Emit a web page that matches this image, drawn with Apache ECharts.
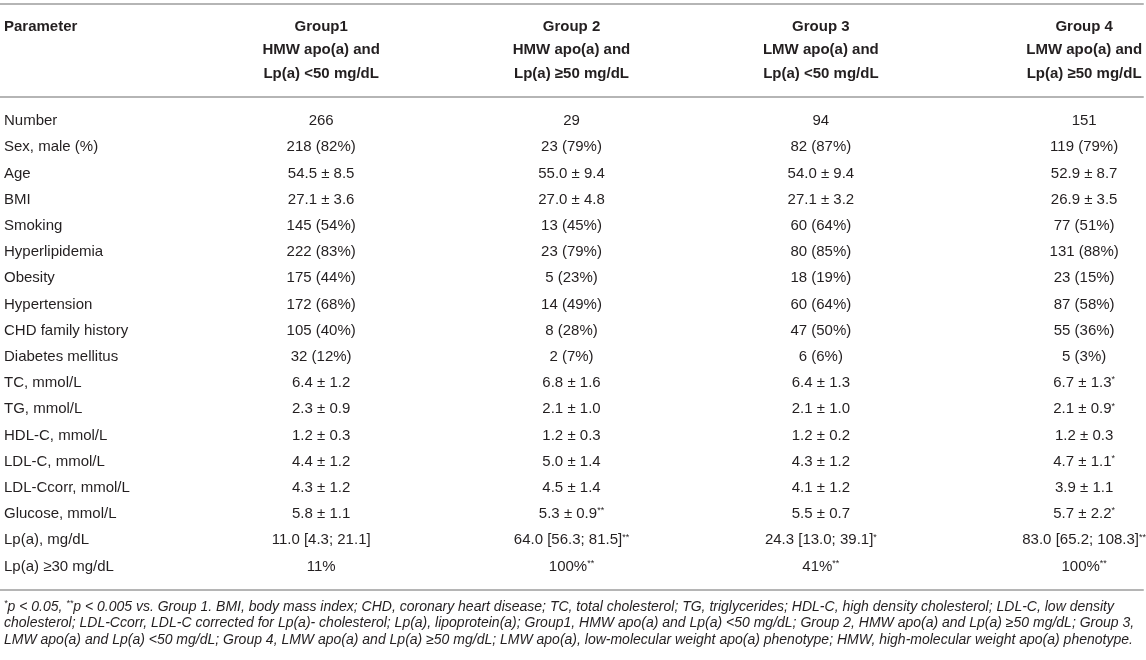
<!DOCTYPE html>
<html>
<head>
<meta charset="utf-8">
<script src="https://cdn.jsdelivr.net/npm/echarts@6/dist/echarts.min.js"></script>
<style>
  html, body { margin: 0; padding: 0; background: #fff; }
  #chart { width: 1146px; height: 660px; }
</style>
</head>
<body>
<div id="chart"></div>
<script>
// table contents
const params = ['Number', 'Sex, male (%)', 'Age', 'BMI', 'Smoking', 'Hyperlipidemia', 'Obesity',
  'Hypertension', 'CHD family history', 'Diabetes mellitus', 'TC, mmol/L', 'TG, mmol/L',
  'HDL-C, mmol/L', 'LDL-C, mmol/L', 'LDL-Ccorr, mmol/L', 'Glucose, mmol/L', 'Lp(a), mg/dL',
  'Lp(a) ≥30 mg/dL']

const group1 = ['266', '218 (82%)', '54.5 ± 8.5', '27.1 ± 3.6', '145 (54%)', '222 (83%)', '175 (44%)',
  '172 (68%)', '105 (40%)', '32 (12%)', '6.4 ± 1.2', '2.3 ± 0.9', '1.2 ± 0.3', '4.4 ± 1.2',
  '4.3 ± 1.2', '5.8 ± 1.1', '11.0 [4.3; 21.1]', '11%']
const group2 = ['29', '23 (79%)', '55.0 ± 9.4', '27.0 ± 4.8', '13 (45%)', '23 (79%)', '5 (23%)',
  '14 (49%)', '8 (28%)', '2 (7%)', '6.8 ± 1.6', '2.1 ± 1.0', '1.2 ± 0.3', '5.0 ± 1.4',
  '4.5 ± 1.4', '5.3 ± 0.9**', '64.0 [56.3; 81.5]**', '100%**']
const group3 = ['94', '82 (87%)', '54.0 ± 9.4', '27.1 ± 3.2', '60 (64%)', '80 (85%)', '18 (19%)',
  '60 (64%)', '47 (50%)', '6 (6%)', '6.4 ± 1.3', '2.1 ± 1.0', '1.2 ± 0.2', '4.3 ± 1.2',
  '4.1 ± 1.2', '5.5 ± 0.7', '24.3 [13.0; 39.1]*', '41%**']
const group4 = ['151', '119 (79%)', '52.9 ± 8.7', '26.9 ± 3.5', '77 (51%)', '131 (88%)', '23 (15%)',
  '87 (58%)', '55 (36%)', '5 (3%)', '6.7 ± 1.3*', '2.1 ± 0.9*', '1.2 ± 0.3', '4.7 ± 1.1*',
  '3.9 ± 1.1', '5.7 ± 2.2*', '83.0 [65.2; 108.3]**', '100%**']

const groupNames = ['Group1', 'Group 2', 'Group 3', 'Group 4']
const groupApo = ['HMW apo(a) and', 'HMW apo(a) and', 'LMW apo(a) and', 'LMW apo(a) and']
const groupLpa = ['Lp(a) <50 mg/dL', 'Lp(a) ≥50 mg/dL', 'Lp(a) <50 mg/dL', 'Lp(a) ≥50 mg/dL']

const footnote = [
  '{s|*}p < 0.05, {s|**}p < 0.005 vs. Group 1. BMI, body mass index; CHD, coronary heart disease; TC, total cholesterol; TG, triglycerides; HDL-C, high density cholesterol; LDL-C, low density',
  'cholesterol; LDL-Ccorr, LDL-C corrected for Lp(a)- cholesterol; Lp(a), lipoprotein(a); Group1, HMW apo(a) and Lp(a) <50 mg/dL; Group 2, HMW apo(a) and Lp(a) ≥50 mg/dL; Group 3,',
  'LMW apo(a) and Lp(a) <50 mg/dL; Group 4, LMW apo(a) and Lp(a) ≥50 mg/dL; LMW apo(a), low-molecular weight apo(a) phenotype; HMW, high-molecular weight apo(a) phenotype.'
]

// layout
const colCenter = [322, 573, 823, 1087]
const FONT = 'Liberation Sans, Arial, Helvetica, sans-serif'
const INK = '#231f20'
const RULE = '#b5b5b5'

const groups = [group1, group2, group3, group4]
const headerRows = [groupNames, groupApo, groupLpa]

// trailing asterisks become superscripts
const cellText = (t) => {
  const m = t.match(/^(.*?)(\*+)$/)
  return m ? `{v|${m[1]}}{s|${m[2]}}` : `{v|${t}}`
}

const cellRenderer = (texts, bold) => (p, api) => {
  const pt = api.coord([api.value(0), api.value(1)])
  return {
    type: 'text',
    x: pt[0],
    y: pt[1],
    style: {
      text: cellText(texts[p.dataIndex]),
      align: 'center',
      verticalAlign: 'middle',
      rich: {
        v: { fontSize: 15, fontFamily: FONT, fontWeight: bold ? 'bold' : 'normal', fill: INK, color: INK },
        s: { fontSize: 9, fontFamily: FONT, fill: INK, color: INK, verticalAlign: 'top', lineHeight: 11 }
      }
    }
  }
}

const hiddenX = (gridIndex, extra) => Object.assign({
  type: 'value', gridIndex, min: 0, max: 1146,
  axisTick: { show: false }, axisLabel: { show: false }, splitLine: { show: false },
  axisLine: { show: true, lineStyle: { color: RULE, width: 2 } }
}, extra)

const series = []
groups.forEach((g, gi) => {
  series.push({
    type: 'custom',
    xAxisIndex: 0, yAxisIndex: 0,
    data: g.map((_, ri) => [colCenter[gi], ri]),
    renderItem: cellRenderer(g, false),
    silent: true
  })
})
groupNames.forEach((_, gi) => {
  const texts = headerRows.map(r => r[gi])
  series.push({
    type: 'custom',
    xAxisIndex: 1, yAxisIndex: 1,
    data: texts.map((_, ri) => [colCenter[gi], ri]),
    renderItem: cellRenderer(texts, true),
    silent: true
  })
})

const chart = echarts.init(document.getElementById('chart'))
chart.setOption({
  animation: false,
  backgroundColor: '#fff',
  title: {
    left: 4,
    top: 598.7,
    padding: 0,
    text: footnote.join('\n'),
    textStyle: {
      fontFamily: FONT, fontSize: 14, fontStyle: 'italic', fontWeight: 'normal',
      color: INK, lineHeight: 16.5,
      rich: {
        s: { fontFamily: FONT, fontSize: 9, fontStyle: 'italic', color: INK, verticalAlign: 'top', lineHeight: 10 }
      }
    }
  },
  grid: [
    { left: 0, right: 3, top: 107.9, height: 471.6 },
    { left: 0, right: 3, top: 15, height: 70.5 }
  ],
  xAxis: [
    hiddenX(0, { position: 'bottom', offset: 10.5 }),
    hiddenX(1, { position: 'bottom', offset: 11.5 }),
    hiddenX(1, { position: 'top', offset: 11 })
  ],
  yAxis: [
    {
      type: 'category', gridIndex: 0, data: params, inverse: true,
      axisLine: { show: false }, axisTick: { show: false }, splitLine: { show: false },
      axisLabel: { inside: true, margin: 4, fontFamily: FONT, fontSize: 15, color: INK }
    },
    {
      type: 'category', gridIndex: 1, data: ['Parameter', '', ''], inverse: true,
      axisLine: { show: false }, axisTick: { show: false }, splitLine: { show: false },
      axisLabel: { inside: true, margin: 4, fontFamily: FONT, fontSize: 15, fontWeight: 'bold', color: INK }
    }
  ],
  series
})
</script>
</body>
</html>
